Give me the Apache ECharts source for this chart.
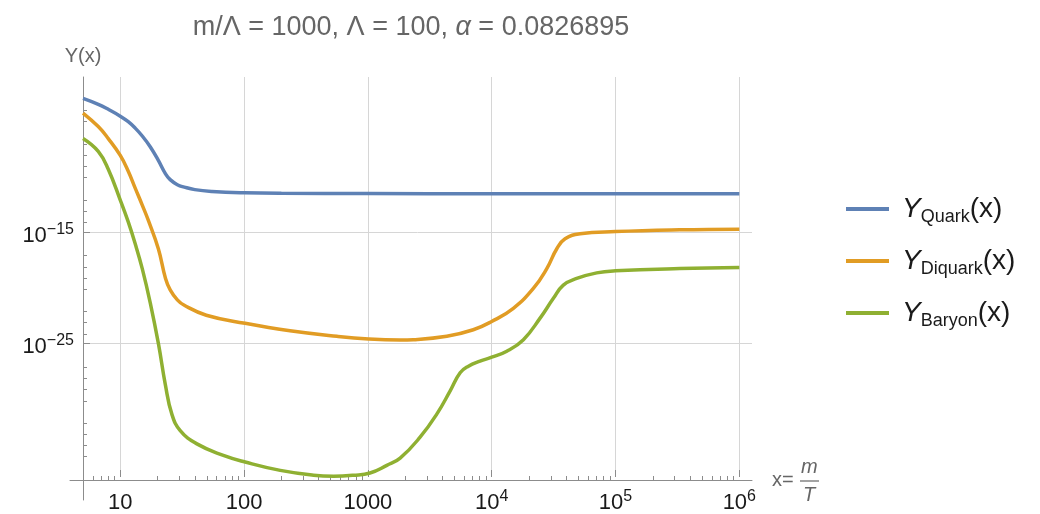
<!DOCTYPE html>
<html>
<head>
<meta charset="utf-8">
<script src="https://cdn.jsdelivr.net/npm/echarts@6/dist/echarts.min.js"></script>
<style>
  html, body { margin: 0; padding: 0; background: #ffffff; }
  #chart { width: 1040px; height: 514px; }
</style>
</head>
<body>
<div id="chart"></div>
<script>
// Relic abundances Y(x) for quarks, diquarks and baryons versus x = m/T
const quarkX = [5, 6.64, 8, 10, 11.6, 13.2, 15.05, 17.5, 20.3, 23.2, 25.3, 28.9, 32.9, 40, 55, 100, 200,
                1000, 1e4, 1e5, 1e6];
const quarkY = [1.17e-3, 3.4e-4, 1.2e-4, 2.9e-5, 9.1e-6, 2.4e-6, 4.7e-7, 4.8e-8, 2.95e-9, 1.82e-10, 5.4e-11,
                1.9e-11, 1.15e-11, 6.8e-12, 4.7e-12, 3.55e-12, 3.16e-12, 3.02e-12, 2.95e-12, 2.95e-12, 2.95e-12];

const diquarkX = [5, 6.64, 8, 10, 11.6, 13.2, 15.05, 16.8, 20.3, 23.2, 25.3, 28.9, 32.9, 49.5, 102, 235, 562,
                  1012, 1820, 2334, 4340, 7100, 1e4, 14960, 21700, 27860, 33560, 39150, 51800, 1e5, 3.3e5, 1e6];
const diquarkY = [5.5e-5, 3.3e-6, 2.75e-7, 8.3e-9, 3.1e-10, 9.3e-12, 2.75e-13, 1.26e-14, 3.16e-17, 6.6e-20,
                  6.2e-21, 7.8e-22, 2.5e-22, 3.2e-23, 5.9e-24, 1.26e-24, 4.0e-25, 2.3e-25, 1.86e-25, 2.0e-25,
                  4.0e-25, 1.55e-24, 8.7e-24, 1.35e-22, 8.3e-21, 5.1e-19, 3.16e-17, 2.5e-16, 7.1e-16,
                  1.12e-15, 1.62e-15, 1.86e-15];

const baryonX = [5, 6.64, 8, 10, 11.6, 13.2, 15.05, 17.5, 20.4, 23.1, 26.1, 30.5, 41.6, 68, 102, 196, 364,
                 528, 765, 1040, 1422, 1822, 2640, 3600, 4620, 5560, 6490, 8050, 1e4, 13240, 18040, 24600,
                 31500, 37900, 48600, 70500, 1e5, 3.3e5, 1e6];
const baryonY = [2.75e-7, 1.9e-8, 4.7e-10, 7.8e-13, 8.3e-15, 8.9e-17, 5.1e-19, 3.8e-22, 7.1e-26, 1.86e-29,
                 3.8e-32, 1.26e-33, 7.9e-35, 7.2e-36, 1.82e-36, 3.2e-37, 1.17e-37, 9.5e-38, 1.17e-37,
                 1.86e-37, 9.1e-37, 4.1e-36, 3.16e-34, 3.8e-32, 4.8e-30, 2.04e-28, 8.1e-28, 2.3e-27, 5.2e-27,
                 1.8e-26, 2.0e-25, 1.74e-23, 1.07e-21, 1.66e-20, 6.6e-20, 2.1e-19, 3.2e-19, 5.1e-19, 6.3e-19];

const seriesNames = ['Quark', 'Diquark', 'Baryon'];
const seriesColors = ['#5E81B5', '#E19C24', '#8FB032'];

// Axis ticks
const xMajorTicks = [10, 100, 1000, 1e4, 1e5, 1e6];
const xMinorTicks = [6, 7, 8, 9];
for (let d = 1; d <= 5; d++) {
  for (let m = 2; m <= 9; m++) xMinorTicks.push(m * Math.pow(10, d));
}
const yMajorTicks = [1e-25, 1e-15];
const yMinorTicks = [1e-3, 1e-4, 1e-5, 1e-7, 1e-8, 1e-9, 1e-10, 1e-12, 1e-13, 1e-14,
                     1e-17, 1e-18, 1e-19, 1e-20, 1e-22, 1e-23, 1e-24,
                     1e-27, 1e-28, 1e-29, 1e-30, 1e-32, 1e-33, 1e-34, 1e-35];

const X_MIN = 5, X_MAX = 1.266e6;
const Y_MIN = 8.13e-38, Y_MAX = 0.0984;

const FONT = '"Liberation Sans", Arial, sans-serif';
const AXIS_GRAY = '#8c8c8c';
const GRID_GRAY = '#d6d6d6';
const LABEL_COLOR = '#1a1a1a';
const NAME_GRAY = '#666666';

function pairs(xs, ys) { return xs.map((x, i) => [x, ys[i]]); }

const powRich = {
  b: { fontSize: 22, lineHeight: 28, color: LABEL_COLOR, fontFamily: FONT },
  e: { fontSize: 16, lineHeight: 14, verticalAlign: 'top', color: LABEL_COLOR, fontFamily: FONT }
};

function xTickLabel(v) {
  const p = Math.round(Math.log10(v));
  if (p <= 3) return '{b|' + Math.round(v) + '}';
  return '{b|10}{e|' + p + '}';
}
function yTickLabel(v) {
  const p = Math.round(Math.log10(v));
  return '{b|10}{e|\u2212' + Math.abs(p) + '}';
}

const plotRect = { left: 83, top: 77, right: 288, bottom: 34, containLabel: false };

const chart = echarts.init(document.getElementById('chart'), null, { renderer: 'canvas' });

const option = {
  animation: false,
  backgroundColor: '#ffffff',
  textStyle: { fontFamily: FONT },
  title: {
    text: 'm/\u039B = 1000, \u039B = 100, {i|\u03B1} = 0.0826895',
    left: 406,
    top: 9,
    textAlign: 'center',
    textStyle: {
      fontSize: 27, fontWeight: 'normal', color: NAME_GRAY, fontFamily: FONT,
      rich: { i: { fontSize: 27, fontStyle: 'italic', color: NAME_GRAY, fontFamily: FONT } }
    }
  },
  legend: {
    orient: 'vertical',
    left: 841,
    top: 190,
    itemWidth: 43,
    itemHeight: 4,
    itemGap: 21,
    icon: 'rect',
    selectedMode: false,
    data: seriesNames,
    formatter: function (name) { return '{sp|}{y|Y}{s|' + name + '}{p|(x)}'; },
    textStyle: {
      color: LABEL_COLOR,
      fontFamily: FONT,
      rich: {
        sp: { width: 8, lineHeight: 34 },
        y: { fontSize: 28, fontStyle: 'italic', lineHeight: 34, color: LABEL_COLOR, fontFamily: FONT },
        s: { fontSize: 18, lineHeight: 17, verticalAlign: 'bottom', color: LABEL_COLOR, fontFamily: FONT },
        p: { fontSize: 28, lineHeight: 34, color: LABEL_COLOR, fontFamily: FONT }
      }
    }
  },
  grid: [
    Object.assign({}, plotRect),                                        // data, major ticks, grid lines
    { left: 70, top: 77, right: 288, bottom: 14, containLabel: false },  // axis lines
    Object.assign({}, plotRect)                                         // minor ticks
  ],
  xAxis: [
    {
      // major ticks, labels and vertical grid lines
      type: 'log', logBase: 10, gridIndex: 0, position: 'bottom', offset: 0, min: X_MIN, max: X_MAX,
      axisLine: { show: false },
      axisTick: { show: true, inside: true, length: 7, customValues: xMajorTicks,
                  lineStyle: { color: AXIS_GRAY, width: 1 } },
      axisLabel: { show: true, customValues: xMajorTicks, margin: 12, formatter: xTickLabel, rich: powRich },
      splitLine: { show: true, lineStyle: { color: GRID_GRAY, width: 1 } }
    },
    {
      // x axis line, running past the plot on both sides
      type: 'value', gridIndex: 1, position: 'bottom', min: 0, max: 1, offset: -20,
      axisLine: { show: true, lineStyle: { color: AXIS_GRAY, width: 1 } },
      axisTick: { show: false }, axisLabel: { show: false }, splitLine: { show: false }
    },
    {
      // minor ticks
      type: 'log', logBase: 10, gridIndex: 2, position: 'bottom', offset: 0, min: X_MIN, max: X_MAX,
      axisLine: { show: false },
      axisTick: { show: true, inside: true, length: 4, customValues: xMinorTicks,
                  lineStyle: { color: AXIS_GRAY, width: 1 } },
      axisLabel: { show: false },
      splitLine: { show: false }
    }
  ],
  yAxis: [
    {
      type: 'log', logBase: 10, gridIndex: 0, position: 'left', offset: 0, min: Y_MIN, max: Y_MAX,
      name: 'Y(x)',
      nameLocation: 'end',
      nameGap: 11,
      nameTextStyle: { fontSize: 20, color: NAME_GRAY, fontFamily: FONT, align: 'center' },
      axisLine: { show: false },
      axisTick: { show: true, inside: true, length: 7, customValues: yMajorTicks,
                  lineStyle: { color: AXIS_GRAY, width: 1 } },
      axisLabel: { show: true, customValues: yMajorTicks, margin: 9, padding: [7, 0, 0, 0],
                   formatter: yTickLabel, rich: powRich },
      splitLine: { show: true, lineStyle: { color: GRID_GRAY, width: 1 } }
    },
    {
      // y axis line, running below the x axis
      type: 'value', gridIndex: 1, position: 'left', min: 0, max: 1, offset: -13,
      axisLine: { show: true, lineStyle: { color: AXIS_GRAY, width: 1 } },
      axisTick: { show: false }, axisLabel: { show: false }, splitLine: { show: false }
    },
    {
      // minor ticks
      type: 'log', logBase: 10, gridIndex: 2, position: 'left', offset: 0, min: Y_MIN, max: Y_MAX,
      axisLine: { show: false },
      axisTick: { show: true, inside: true, length: 4, customValues: yMinorTicks,
                  lineStyle: { color: AXIS_GRAY, width: 1 } },
      axisLabel: { show: false },
      splitLine: { show: false }
    }
  ],
  series: [
    { name: seriesNames[0], data: pairs(quarkX, quarkY) },
    { name: seriesNames[1], data: pairs(diquarkX, diquarkY) },
    { name: seriesNames[2], data: pairs(baryonX, baryonY) }
  ].map((s, i) => Object.assign({
    type: 'line',
    xAxisIndex: 0,
    yAxisIndex: 0,
    smooth: 0.45,
    showSymbol: false,
    symbol: 'none',
    clip: true,
    color: seriesColors[i],
    lineStyle: { color: seriesColors[i], width: 3.5 },
    itemStyle: { color: seriesColors[i] },
    z: 3 + i
  }, s)),
  graphic: [
    { type: 'text', left: 772, top: 470,
      style: { text: 'x=', fontSize: 20, fill: NAME_GRAY, fontFamily: FONT } },
    { type: 'text', left: 801, top: 457,
      style: { text: 'm', fontSize: 20, fontStyle: 'italic', fill: NAME_GRAY, fontFamily: FONT } },
    { type: 'line', shape: { x1: 800, y1: 481, x2: 819, y2: 481 },
      style: { stroke: NAME_GRAY, lineWidth: 1.2 } },
    { type: 'text', left: 803, top: 485,
      style: { text: 'T', fontSize: 20, fontStyle: 'italic', fill: NAME_GRAY, fontFamily: FONT } }
  ]
};

chart.setOption(option);
</script>
</body>
</html>
